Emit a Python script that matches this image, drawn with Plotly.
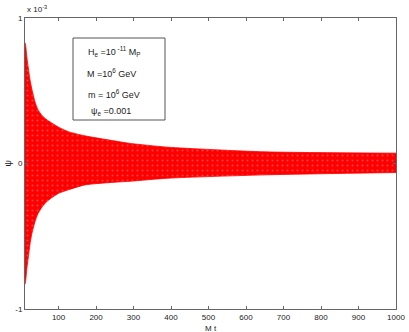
import plotly.graph_objects as go

# Envelope of the oscillating field psi (units of 1e-3)
t_env = [10.5, 12.1, 15.5, 19.3, 23.5, 28.1, 37.2, 45.0, 54.7, 66.0, 81.4, 100.0, 125.8, 170.3, 259.0, 291.0, 392.0, 650.0, 1000.0]
psi_upper = [0.83, 0.815, 0.73, 0.657, 0.58, 0.519, 0.423, 0.37, 0.334, 0.305, 0.279, 0.25, 0.219, 0.190, 0.151, 0.138, 0.112, 0.080, 0.071]
psi_lower = [-0.83, -0.811, -0.72, -0.646, -0.56, -0.490, -0.399, -0.345, -0.304, -0.268, -0.236, -0.205, -0.181, -0.147, -0.127, -0.122, -0.101, -0.078, -0.062]

x_ticks = [100, 200, 300, 400, 500, 600, 700, 800, 900, 1000]
y_ticks = [-1, 0, 1]
y_tick_text = ["-1", "0", "1"]

info_lines = [
    "H<sub>e</sub> =10<sup> -11</sup> M<sub>P</sub>",
    "M =10<sup>6</sup> GeV",
    "m = 10<sup>6</sup> GeV",
    "\u03c8<sub>e</sub> =0.001",
]
info_x = [114, 111, 114, 111]          # pixel centres of each line
info_y = [51, 73, 94, 111]

W, H = 409, 332
L, R, T, B = 25, 13, 18, 23
X0, X1 = 10.5, 1000
Y0, Y1 = -1, 1
pw, ph = W - L - R, H - T - B

def px2x(px):
    return X0 + (px - L) / pw * (X1 - X0)

def py2y(py):
    return Y1 - (py - T) / ph * (Y1 - Y0)

FONT = "Liberation Sans, Arial, Helvetica, sans-serif"

fig = go.Figure()
fig.add_trace(go.Scatter(x=t_env, y=psi_lower, mode="lines",
                         line=dict(color="#ff0000", width=0.8, shape="spline", smoothing=0.6),
                         hoverinfo="skip", showlegend=False))
fig.add_trace(go.Scatter(x=t_env, y=psi_upper, mode="lines",
                         line=dict(color="#ff0000", width=0.8, shape="spline", smoothing=0.6),
                         fill="tonexty", fillcolor="#ff0000",
                         fillpattern=dict(shape=".", bgcolor="#ff0000", fgcolor="rgba(255,255,255,0.55)",
                                          size=5, solidity=0.12),
                         hoverinfo="skip", showlegend=False))

# annotation box
fig.add_shape(type="rect", xref="x", yref="y",
              x0=px2x(73), x1=px2x(165), y0=py2y(120), y1=py2y(38),
              line=dict(color="#555555", width=1), fillcolor="rgba(0,0,0,0)")
for txt, xp, yp in zip(info_lines, info_x, info_y):
    fig.add_annotation(x=px2x(xp), y=py2y(yp), xref="x", yref="y", text=txt,
                       showarrow=False, font=dict(family=FONT, size=9, color="#222222"),
                       xanchor="center", yanchor="middle")

# axis labels & exponent
fig.add_annotation(x=0.5, y=(ph - (328 - T)) / ph, xref="paper", yref="paper",
                   text="M t", showarrow=False, font=dict(family=FONT, size=8, color="#222222"),
                   xanchor="center", yanchor="middle")
fig.add_annotation(x=(7 - L) / pw, y=0.5, xref="paper", yref="paper", text="\u03c8",
                   textangle=-90, showarrow=False, font=dict(family=FONT, size=9, color="#222222"),
                   xanchor="center", yanchor="middle")
fig.add_annotation(x=0, y=(ph - (9 - T)) / ph, xref="paper", yref="paper",
                   text="x 10<sup>-3</sup>", showarrow=False,
                   font=dict(family=FONT, size=8, color="#222222"),
                   xanchor="left", yanchor="middle")

axis_common = dict(showgrid=False, zeroline=False, showline=True, linecolor="#666666",
                   linewidth=1, mirror="ticks", ticks="inside", ticklen=3, tickcolor="#666666",
                   tickfont=dict(family=FONT, size=8, color="#222222"))
fig.update_xaxes(range=[X0, X1], tickvals=x_ticks, **axis_common)
fig.update_yaxes(range=[Y0, Y1], tickvals=y_ticks, ticktext=y_tick_text, **axis_common)

fig.update_layout(width=W, height=H, margin=dict(l=L, r=R, t=T, b=B, autoexpand=False),
                  plot_bgcolor="white", paper_bgcolor="white")
fig.write_html("out.html", config={"displayModeBar": False},
               post_script="document.body.style.margin='0';document.body.style.padding='0';")
